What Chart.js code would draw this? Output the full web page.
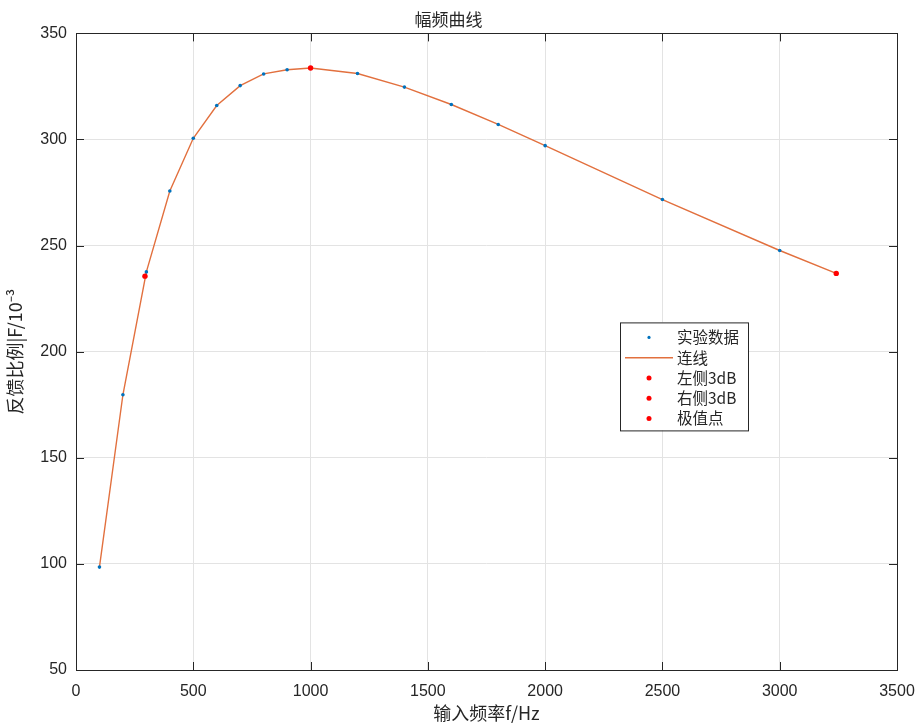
<!DOCTYPE html>
<html>
<head>
<meta charset="utf-8">
<script src="https://cdn.jsdelivr.net/npm/chart.js@4"></script>
<style>
  body { margin: 0; background: #fff; }
</style>
</head>
<body>
<canvas id="fig" width="921" height="724"></canvas>
<script>
// 实验数据 (频率 Hz, 反馈比例 x10^-3)
var freq  = [100, 200, 300, 400, 500, 600, 700, 800, 900, 1000, 1200, 1400, 1600, 1800, 2000, 2500, 3000];
var ratio = [98.5, 179.7, 237.6, 275.7, 300.6, 316.0, 325.4, 330.9, 332.9, 333.7, 331.1, 324.7, 316.5, 307.1, 297.1, 271.7, 247.7];
// 连线 ends at the right 3dB point
var lineFreq  = [100, 200, 300, 400, 500, 600, 700, 800, 900, 1000, 1200, 1400, 1600, 1800, 2000, 2500, 3000, 3241];
var lineRatio = [98.5, 179.7, 237.6, 275.7, 300.6, 316.0, 325.4, 330.9, 332.9, 333.7, 331.1, 324.7, 316.5, 307.1, 297.1, 271.7, 247.7, 236.9];
var left3dB  = [294, 235.6];
var right3dB = [3241, 236.9];
var peak     = [1000, 333.7];

var xTicks = [0, 500, 1000, 1500, 2000, 2500, 3000, 3500];
var yTicks = [50, 100, 150, 200, 250, 300, 350];
var legendNames = ['实验数据', '连线', '左侧3dB', '右侧3dB', '极值点'];

var blue = '#0072BD';
var orange = '#E2703E';
var axisCol = '#262626';
var cjk = '"Noto Sans CJK SC", "Liberation Sans", sans-serif';
var num = '"Liberation Sans", Arial, sans-serif';

function pts(xs, ys) {
  var out = [];
  for (var i = 0; i < xs.length; i++) out.push({x: xs[i], y: ys[i]});
  return out;
}

// inward ticks on all four sides + box, like the matlab axes
var boxPlugin = {
  id: 'box',
  afterDatasetsDraw: function(chart) {
    var ctx = chart.ctx, ca = chart.chartArea;
    var sx = chart.scales.x, sy = chart.scales.y;
    ctx.save();
    ctx.strokeStyle = axisCol;
    ctx.lineWidth = 1;
    ctx.beginPath();
    xTicks.forEach(function(v) {
      var px = Math.round(sx.getPixelForValue(v)) + 0.5;
      ctx.moveTo(px, ca.bottom); ctx.lineTo(px, ca.bottom - 8);
      ctx.moveTo(px, ca.top); ctx.lineTo(px, ca.top + 8);
    });
    yTicks.forEach(function(v) {
      var py = Math.round(sy.getPixelForValue(v)) + 0.5;
      ctx.moveTo(ca.left, py); ctx.lineTo(ca.left + 8, py);
      ctx.moveTo(ca.right, py); ctx.lineTo(ca.right - 8, py);
    });
    ctx.stroke();
    ctx.strokeRect(Math.round(ca.left) + 0.5, Math.round(ca.top) + 0.5,
                   Math.round(ca.right - ca.left), Math.round(ca.bottom - ca.top));
    ctx.restore();
  }
};

// legend box sitting inside the axes
var legendPlugin = {
  id: 'boxLegend',
  afterDraw: function(chart) {
    var ctx = chart.ctx, ca = chart.chartArea;
    var bx = ca.left + 544, by = ca.top + 289, bw = 128, bh = 108;
    ctx.save();
    ctx.fillStyle = '#fff';
    ctx.fillRect(bx, by, bw, bh);
    ctx.strokeStyle = axisCol;
    ctx.lineWidth = 1;
    ctx.strokeRect(bx + 0.5, by + 0.5, bw, bh);
    ctx.font = '15.5px ' + cjk;
    ctx.textBaseline = 'middle';
    for (var i = 0; i < legendNames.length; i++) {
      var ry = by + 15 + i * 20.3;
      if (i === 1) {
        ctx.strokeStyle = orange;
        ctx.lineWidth = 1.4;
        ctx.beginPath();
        ctx.moveTo(bx + 5, ry); ctx.lineTo(bx + 53, ry);
        ctx.stroke();
      } else {
        ctx.fillStyle = i === 0 ? blue : '#ff0000';
        ctx.beginPath();
        ctx.arc(bx + 29, ry, i === 0 ? 1.6 : 2.5, 0, Math.PI * 2);
        ctx.fill();
      }
      ctx.fillStyle = axisCol;
      ctx.fillText(legendNames[i], bx + 57, ry);
    }
    ctx.restore();
  }
};

new Chart(document.getElementById('fig'), {
  type: 'scatter',
  data: {
    datasets: [
      { label: '实验数据', data: pts(freq, ratio), backgroundColor: blue, borderColor: blue,
        pointRadius: 1.8, borderWidth: 0, order: 1 },
      { label: '连线', data: pts(lineFreq, lineRatio), showLine: true, borderColor: orange,
        borderWidth: 1.4, pointRadius: 0, order: 2 },
      { label: '左侧3dB', data: [{x: left3dB[0], y: left3dB[1]}], backgroundColor: '#ff0000',
        borderWidth: 0, pointRadius: 2.7, order: 0 },
      { label: '右侧3dB', data: [{x: right3dB[0], y: right3dB[1]}], backgroundColor: '#ff0000',
        borderWidth: 0, pointRadius: 2.7, order: 0 },
      { label: '极值点', data: [{x: peak[0], y: peak[1]}], backgroundColor: '#ff0000',
        borderWidth: 0, pointRadius: 2.7, order: 0 }
    ]
  },
  options: {
    responsive: false,
    animation: false,
    layout: { padding: { left: 0, right: 24, top: 0, bottom: 0 } },
    plugins: {
      legend: { display: false },
      tooltip: { enabled: false },
      title: {
        display: true, text: '幅频曲线', color: axisCol,
        font: { family: cjk, size: 17, weight: 'normal', lineHeight: 1.2 },
        padding: { top: 9, bottom: 4 }
      }
    },
    scales: {
      x: {
        type: 'linear', min: 0, max: 3500,
        afterBuildTicks: function(s) { s.ticks = xTicks.map(function(v) { return {value: v}; }); },
        afterFit: function(s) { s.height = 54; s.paddingLeft = 0; s.paddingRight = 0; },
        grid: { color: '#e3e3e3', drawTicks: false },
        border: { display: false },
        ticks: { color: axisCol, padding: 12, maxRotation: 0, font: { family: num, size: 16 },
                 callback: function(v) { return String(v); } },
        title: { display: true, text: '输入频率f/Hz', color: axisCol, padding: { top: 0, bottom: 0 },
                 font: { family: cjk, size: 18 } }
      },
      y: {
        type: 'linear', min: 50, max: 350,
        afterBuildTicks: function(s) { s.ticks = yTicks.map(function(v) { return {value: v}; }); },
        afterFit: function(s) { s.width = 76; s.paddingTop = 0; s.paddingBottom = 0; },
        grid: { color: '#e3e3e3', drawTicks: false },
        border: { display: false },
        ticks: { color: axisCol, padding: 9, font: { family: num, size: 16 },
                 callback: function(v) { return String(v); } },
        title: { display: true, text: '反馈比例|F/10⁻³', color: axisCol, padding: { top: 4, bottom: 2 },
                 font: { family: cjk, size: 18 } }
      }
    }
  },
  plugins: [boxPlugin, legendPlugin]
});
</script>
</body>
</html>
